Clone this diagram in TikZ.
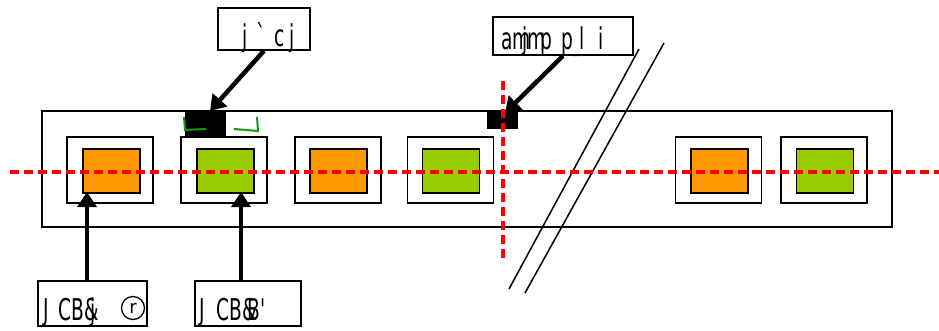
\documentclass[tikz,border=0pt]{standalone}
\usepackage{fontspec}
\setmainfont{DejaVu Sans}
\newfontfamily\narfont[FakeStretch=0.62]{DejaVu Sans}
\usetikzlibrary{arrows.meta}
\definecolor{orng}{HTML}{FF9900}
\definecolor{grn}{HTML}{99CC00}
\definecolor{dgrn}{HTML}{119911}
\begin{document}
\begin{tikzpicture}[x=1pt,y=-1pt,
  bigbox/.style={draw, line width=1.8pt, inner sep=0pt, minimum width=850, minimum height=116},
  obox/.style={draw, line width=1.8pt, fill=white, inner sep=0pt, minimum width=86, minimum height=66},
  ibox/.style={draw, line width=1.8pt, inner sep=0pt, minimum width=57, minimum height=44},
  blk/.style={fill=black, inner sep=0pt},
  lbl/.style={draw, line width=1.5pt, fill=white, inner sep=0pt},
  txt/.style={inner sep=0pt, font=\narfont\fontsize{30}{33}\selectfont},
  arr/.style={line width=4.5pt, -{Triangle[length=15pt, width=19pt]}},
  reddash/.style={red, line width=3.8pt, dash pattern=on 9pt off 5pt},
  brk/.style={line width=1.5pt},
  gmark/.style={dgrn, line width=2pt}]
\useasboundingbox (0,0) rectangle (939,331);
% main strip
\node[bigbox] (big) at (467,169) {};
% boxes
\node[obox] (o1) at (110,170) {};
\node[ibox, fill=orng] (i1) at (111.5,171) {};
\node[obox] (o2) at (224,170) {};
\node[ibox, fill=grn] (i2) at (225.5,171) {};
\node[obox] (o3) at (338,170) {};
\node[ibox, fill=orng] (i3) at (338.5,171) {};
\node[obox] (o4) at (450.5,170) {};
\node[ibox, fill=grn] (i4) at (451,171) {};
\node[obox] (o5) at (718.5,170) {};
\node[ibox, fill=orng] (i5) at (719.5,171) {};
\node[obox] (o6) at (824,170) {};
\node[ibox, fill=grn] (i6) at (825,171) {};
% black blocks
\node[blk, minimum width=41, minimum height=26] (b1) at (205.5,124) {};
\node[blk, minimum width=31, minimum height=17] (b2) at (502.5,120.5) {};
% green marks
\draw[gmark] (184,117) -- (185,130) -- (206,129);
\draw[gmark] (234,129) -- (258,131) -- (257,117);
% break lines
\coordinate (s1a) at (639,49);
\coordinate (s1b) at (509,289);
\coordinate (s2a) at (664,43);
\coordinate (s2b) at (525,293);
\draw[brk] (s1a) -- (s1b);
\draw[brk] (s2a) -- (s2b);
% red dashed axes
\coordinate (h1) at (10,172);
\coordinate (h2) at (939,172);
\coordinate (v1) at (503,81);
\coordinate (v2) at (503,258);
\draw[reddash] (h1) -- (h2);
\draw[reddash] (v1) -- (v2);
% labels
\node[lbl, minimum width=92, minimum height=42] (l1) at (264,29) {};
\node[txt, anchor=base west] (t1) at (242,47) {j\hspace{9pt}`\hspace{9pt}c\hspace{5pt}j};
\node[lbl, minimum width=140, minimum height=38] (l2) at (563,36) {};
\node[txt, anchor=base west] (t2) at (501,50) {am\kern-8pt jm\kern-6pt p\hspace{10pt}p\_\kern-3pt l\hspace{13pt}i};
\node[lbl, minimum width=109, minimum height=45] (l3) at (92.5,303.5) {};
\node[txt, anchor=base west] (t3) at (43,320) {J\hspace{10pt}CB\&\kern-8pt j};
\node[circle, draw, line width=1.3pt, inner sep=0pt, minimum size=23pt, font=\fontsize{18}{18}\selectfont] (r3) at (133,308) {r};
\node[lbl, minimum width=106, minimum height=45] (l4) at (248,303.5) {};
\node[txt, anchor=base west] (t4) at (199,320) {J\hspace{12pt}CB\&\kern-9pt B'};
% arrows
\coordinate (a1) at (210,111);
\coordinate (a2) at (505,113);
\coordinate (a3) at (87,192);
\coordinate (a4) at (241,192);
\draw[arr] (l1.south) -- (a1);
\draw[arr] (l2.south) -- (a2);
\draw[arr] ([xshift=-5.5pt]l3.north) -- (a3);
\draw[arr] ([xshift=-7pt]l4.north) -- (a4);
\end{tikzpicture}
\end{document}
